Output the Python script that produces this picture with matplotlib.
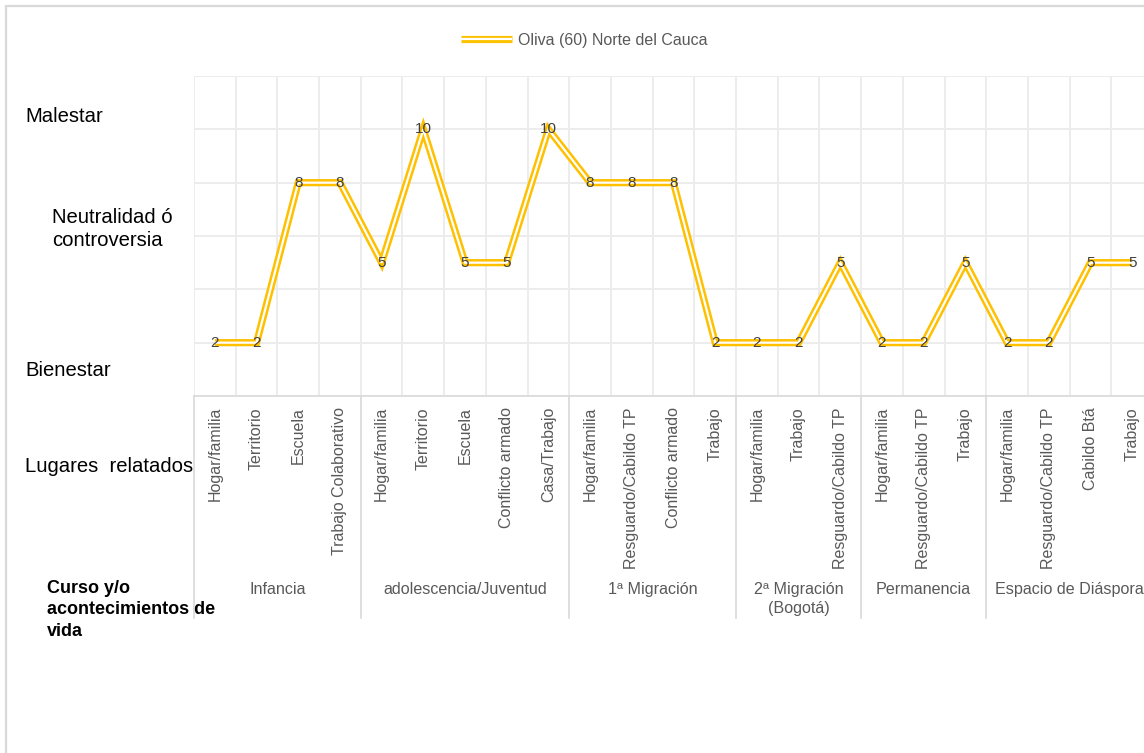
import matplotlib
matplotlib.use("Agg")
import matplotlib.pyplot as plt
from matplotlib.legend_handler import HandlerTuple
from matplotlib.patches import Rectangle
import numpy as np

plt.rcParams['font.family'] = ['Liberation Sans', 'DejaVu Sans']

# etapas de vida y lugares relatados en cada una
groups = ["Infancia", "adolescencia/Juventud", "1ª Migración",
          "2ª Migración\n(Bogotá)", "Permanencia", "Espacio de Diáspora"]
group_places = [
    ["Hogar/familia", "Territorio", "Escuela", "Trabajo Colaborativo"],
    ["Hogar/familia", "Territorio", "Escuela", "Conflicto armado", "Casa/Trabajo"],
    ["Hogar/familia", "Resguardo/Cabildo TP", "Conflicto armado", "Trabajo"],
    ["Hogar/familia", "Trabajo", "Resguardo/Cabildo TP"],
    ["Hogar/familia", "Resguardo/Cabildo TP", "Trabajo"],
    ["Hogar/familia", "Resguardo/Cabildo TP", "Cabildo Btá", "Trabajo"],
]
values = [2, 2, 8, 8,
          5, 10, 5, 5, 10,
          8, 8, 8, 2,
          2, 2, 5,
          2, 2, 5,
          2, 2, 5, 5]
series_name = "Oliva (60) Norte del Cauca"

places = [p for g in group_places for p in g]
n = len(places)
x = np.arange(n) + 0.5

W, H = 1144, 753
fig = plt.figure(figsize=(W / 100, H / 100), dpi=100)

def px(xp, yp):
    return xp / W, 1 - yp / H

ax = fig.add_axes([194 / W, 1 - 396 / H, 959 / W, 320 / H])
ax.set_xlim(0, n)
ax.set_ylim(0, 12)

# cuadricula
ax.set_yticks(np.arange(0, 13, 2))
ax.set_yticklabels([])
ax.tick_params(axis="y", length=0)
ax.set_xticks(np.arange(n + 1), minor=True)
ax.grid(True, which="major", axis="y", color="#ececec", lw=1.4)
ax.grid(True, which="minor", axis="x", color="#ececec", lw=1.4)
ax.set_axisbelow(True)
for s in ["top", "right", "left"]:
    ax.spines[s].set_visible(False)
ax.spines["bottom"].set_color("#d9d9d9")
ax.spines["bottom"].set_linewidth(1.2)

ax.set_xticks(x)
ax.set_xticklabels(places, rotation=90, va="top", ha="center",
                   fontsize=11.5, color="#595959")
ax.tick_params(axis="x", which="both", length=0, pad=8)

# linea doble
l1, = ax.plot(x, values, color="#FFC000", lw=5.2, solid_joinstyle="miter",
              solid_capstyle="butt", zorder=3)
l2, = ax.plot(x, values, color="white", lw=1.6, solid_joinstyle="miter",
              solid_capstyle="butt", zorder=4)

for xi, v in zip(x, values):
    ax.text(xi, v, str(v), ha="center", va="center", fontsize=11,
            color="#404040", zorder=5)

# etiquetas de etapas y separadores
trans = ax.get_xaxis_transform()
start = 0
bottom = -(618 - 396) / 320
ax.plot([0, 0], [0, bottom], transform=trans, color="#d9d9d9", lw=1.2,
        clip_on=False)
for g, pl in zip(groups, group_places):
    end = start + len(pl)
    ax.plot([end, end], [0, bottom], transform=trans, color="#d9d9d9",
            lw=1.2, clip_on=False)
    ax.text((start + end) / 2, -(582 - 396) / 320, g, transform=trans,
            ha="center", va="top", fontsize=11.6, color="#595959",
            linespacing=1.3)
    start = end

# leyenda
leg = fig.legend([(l1, l2)], [series_name],
                 handler_map={tuple: HandlerTuple(ndivide=1)},
                 loc="center", bbox_to_anchor=px(584, 40), frameon=False,
                 fontsize=11.5, handlelength=3.2, handletextpad=0.4)
for t in leg.get_texts():
    t.set_color("#595959")

# textos de la escala
fig.text(*px(25, 117), "Malestar", fontsize=14.6, va="center", ha="left")
fig.text(*px(52, 229), "Neutralidad ó\ncontroversia", fontsize=14.6,
         va="center", ha="left", linespacing=1.25)
fig.text(*px(25, 370), "Bienestar", fontsize=14.6, va="center", ha="left")
fig.text(*px(25, 467), "Lugares  relatados", fontsize=14.6, va="center",
         ha="left")
fig.text(*px(47, 610), "Curso y/o\nacontecimientos de\nvida", fontsize=13,
         fontweight="bold", va="center", ha="left", linespacing=1.35)

# borde del grafico
fig.add_artist(Rectangle(px(6, 900), 1.2, (900 - 6) / H, fill=False,
                         edgecolor="#d9d9d9", lw=1.6,
                         transform=fig.transFigure))

fig.savefig("out.png", dpi=100, facecolor="white")
